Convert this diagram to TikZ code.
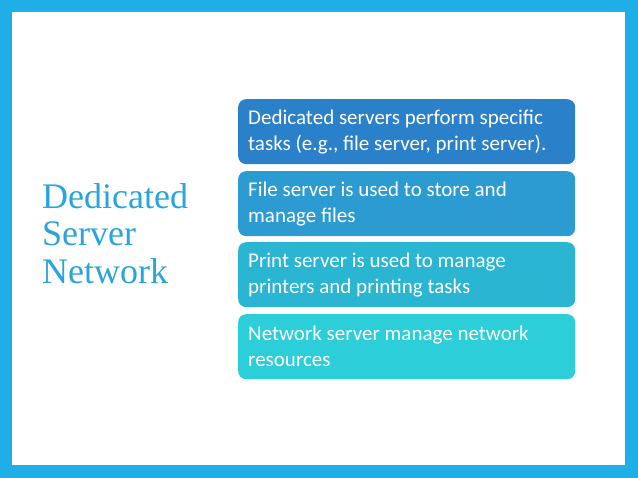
\documentclass[tikz,border=0pt]{standalone}
\usepackage{fontspec}
\setmainfont{Liberation Serif}
\newfontfamily\boxfont{Carlito}
\definecolor{frameblue}{HTML}{1FAEE6}
\definecolor{titleblue}{HTML}{2AA5DB}
\definecolor{cA}{HTML}{2A80C9}
\definecolor{cB}{HTML}{2B9BD1}
\definecolor{cC}{HTML}{2AB5D3}
\definecolor{cD}{HTML}{2BCED9}
\begin{document}
\begin{tikzpicture}[x=1pt,y=1pt,
  itembox/.style={draw=none, rounded corners=8pt, anchor=north west,
    minimum width=337pt, minimum height=65pt, text width=317pt,
    inner xsep=10pt, inner ysep=0pt, align=flush left, text=white,
    font=\boxfont\fontsize{21}{26}\selectfont},
  titletext/.style={anchor=north west, align=left, text=titleblue,
    inner sep=0pt, font=\fontsize{36}{37.5}\selectfont}]
\useasboundingbox (0,0) rectangle (638,478);
\fill[frameblue] (0,0) rectangle (638,478);
\fill[white] (12,13) rectangle (625,466);
\node[titletext] (title) at (42,295) {Dedicated\\Server\\Network};
\node[itembox, fill=cA] (b1) at (238,379) {Dedicated servers perform specific\\tasks (e.g., file server, print server).};
\node[itembox, fill=cB] (b2) at (238,307) {File server is used to store and\\manage files};
\node[itembox, fill=cC] (b3) at (238,236) {Print server is used to manage\\printers and printing tasks};
\node[itembox, fill=cD] (b4) at (238,164) {Network server manage network\\resources};
\end{tikzpicture}
\end{document}
